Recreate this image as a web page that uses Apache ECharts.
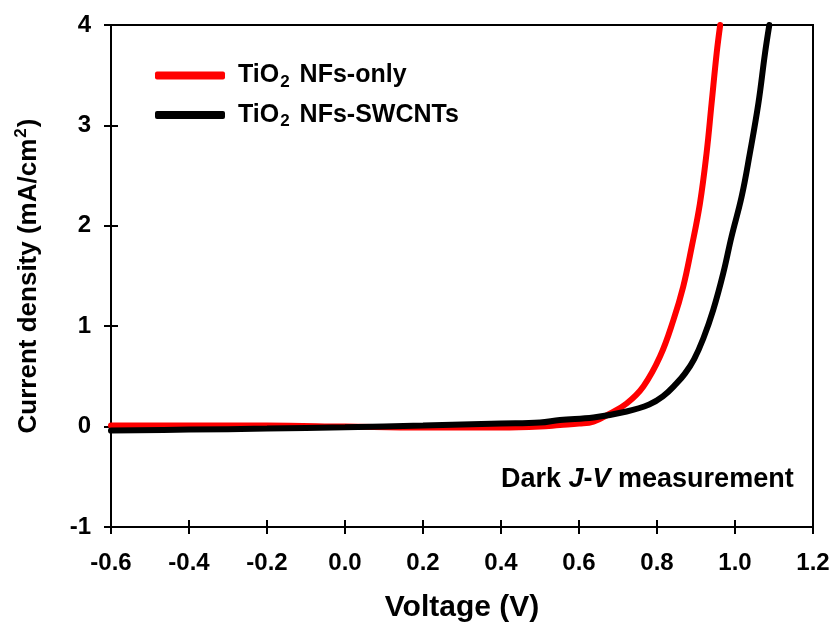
<!DOCTYPE html>
<html>
<head>
<meta charset="utf-8">
<script src="https://cdn.jsdelivr.net/npm/echarts@6/dist/echarts.min.js"></script>
<style>html,body{margin:0;padding:0;background:#fff}#c{width:837px;height:633px}</style>
</head>
<body>
<div id="c"></div>
<script>
// ---- data ----
var seriesNames = ['TiO2 NFs-only', 'TiO2 NFs-SWCNTs'];
var redV = [-0.6, -0.4, -0.2, 0.0, 0.2, 0.4, 0.5, 0.551, 0.6, 0.637, 0.679, 0.722, 0.765, 0.808, 0.842, 0.867, 0.889, 0.910, 0.927, 0.940, 0.953, 0.962];
var redJ = [0.01, 0.01, 0.01, 0.0, -0.01, -0.01, 0.0, 0.016, 0.03, 0.05, 0.13, 0.23, 0.40, 0.70, 1.06, 1.39, 1.79, 2.22, 2.72, 3.22, 3.72, 4.0];
var blackV = [-0.6, -0.4, -0.2, 0.0, 0.2, 0.4, 0.5, 0.551, 0.637, 0.722, 0.78, 0.815, 0.850, 0.872, 0.895, 0.919, 0.944, 0.970, 0.991, 1.017, 1.038, 1.060, 1.077, 1.088];
var blackJ = [-0.04, -0.03, -0.02, -0.007, 0.01, 0.03, 0.04, 0.066, 0.09, 0.15, 0.22, 0.30, 0.43, 0.53, 0.67, 0.88, 1.16, 1.53, 1.89, 2.29, 2.72, 3.22, 3.72, 4.0];
var xTicks = {min: -0.6, max: 1.2, interval: 0.2};
var yTicks = {min: -1, max: 4, interval: 1};

function pairs(xs, ys) { return xs.map(function (x, i) { return [x, ys[i]]; }); }

var FONT = '"Liberation Sans", Arial, sans-serif';
var chart = echarts.init(document.getElementById('c'));
var axisCommon = {
  axisLine: {show: true, onZero: false, lineStyle: {color: '#000', width: 2}},
  splitLine: {show: false}
};
chart.setOption({
  animation: false,
  backgroundColor: '#fff',
  grid: {left: 111, right: 24, top: 25, bottom: 106, show: true, borderColor: '#000', borderWidth: 2},
  title: {
    left: 496, top: 461,
    text: '{a|Dark }{i|J}{a|-}{i|V}{a| measurement}',
    textStyle: {
      rich: {
        a: {fontFamily: FONT, fontWeight: 'bold', fontSize: 27, color: '#000'},
        i: {fontFamily: FONT, fontWeight: 'bold', fontStyle: 'italic', fontSize: 27, color: '#000'}
      }
    }
  },
  legend: {
    orient: 'vertical', left: 150, top: 58,
    itemWidth: 70, itemHeight: 8, itemGap: 12,
    icon: 'roundRect',
    data: seriesNames,
    formatter: function (n) { return '{a|TiO}{s|2}{a|' + n.slice(4) + '}'; },
    textStyle: {
      padding: [0, 0, 0, 8],
      rich: {
        a: {fontFamily: FONT, fontWeight: 'bold', fontSize: 25, color: '#000', lineHeight: 30},
        s: {fontFamily: FONT, fontWeight: 'bold', fontSize: 17, color: '#000', lineHeight: 30, verticalAlign: 'bottom', padding: [10, 3, 0, 1]}
      }
    }
  },
  xAxis: [
    Object.assign({
      type: 'value', min: xTicks.min, max: xTicks.max, interval: xTicks.interval, position: 'bottom',
      axisTick: {show: true, inside: false, length: 7, lineStyle: {color: '#000', width: 2}},
      axisLabel: {fontFamily: FONT, fontWeight: 'bold', fontSize: 24, color: '#000', margin: 24,
        formatter: function (v) { return v.toFixed(1); }},
      name: 'Voltage (V)', nameLocation: 'middle', nameGap: 66,
      nameTextStyle: {fontFamily: FONT, fontWeight: 'bold', fontSize: 30, color: '#000'}
    }, axisCommon),
    {
      type: 'value', min: xTicks.min, max: xTicks.max, interval: xTicks.interval, position: 'bottom',
      axisLine: {show: false, onZero: false}, axisLabel: {show: false}, splitLine: {show: false},
      axisTick: {show: true, inside: true, length: 7, lineStyle: {color: '#000', width: 2}}
    }
  ],
  yAxis: [
    Object.assign({
      type: 'value', min: yTicks.min, max: yTicks.max, interval: yTicks.interval, position: 'left',
      axisTick: {show: true, inside: false, length: 7, lineStyle: {color: '#000', width: 2}},
      axisLabel: {fontFamily: FONT, fontWeight: 'bold', fontSize: 24, color: '#000', margin: 20},
      name: '{a|Current density (mA/cm}{s|2}{a|)}', nameLocation: 'middle', nameGap: 66,
      nameTextStyle: {
        rich: {
          a: {fontFamily: FONT, fontWeight: 'bold', fontSize: 26, color: '#000', lineHeight: 32},
          s: {fontFamily: FONT, fontWeight: 'bold', fontSize: 17, color: '#000', lineHeight: 32, verticalAlign: 'top', padding: [0, 1, 10, 1]}
        }
      }
    }, axisCommon),
    {
      type: 'value', min: yTicks.min, max: yTicks.max, interval: yTicks.interval, position: 'left',
      axisLine: {show: false, onZero: false}, axisLabel: {show: false}, splitLine: {show: false},
      axisTick: {show: true, inside: true, length: 7, lineStyle: {color: '#000', width: 2}}
    }
  ],
  series: [
    {
      name: seriesNames[0], type: 'line', xAxisIndex: 0, yAxisIndex: 0,
      data: pairs(redV, redJ), smooth: 0.4, symbol: 'none',
      lineStyle: {color: '#ff0000', width: 6, cap: 'round'}, itemStyle: {color: '#ff0000'}, z: 3
    },
    {
      name: seriesNames[1], type: 'line', xAxisIndex: 0, yAxisIndex: 0,
      data: pairs(blackV, blackJ), smooth: 0.4, symbol: 'none',
      lineStyle: {color: '#000000', width: 6, cap: 'round'}, itemStyle: {color: '#000000'}, z: 4
    }
  ]
});
</script>
</body>
</html>
